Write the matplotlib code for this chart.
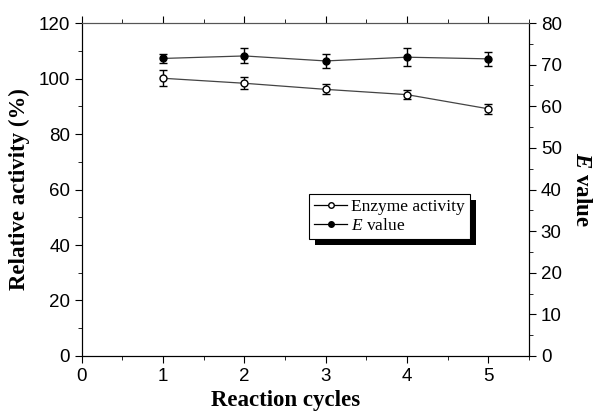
import matplotlib.pyplot as plt
from matplotlib.ticker import MultipleLocator
from matplotlib.lines import Line2D
from matplotlib.patches import Rectangle
from matplotlib.transforms import IdentityTransform

plt.rcParams['mathtext.fontset'] = 'custom'
plt.rcParams['mathtext.it'] = 'Liberation Serif:italic'
plt.rcParams['mathtext.bf'] = 'Liberation Serif:italic:bold'
plt.rcParams['mathtext.rm'] = 'Liberation Serif'

cycles = [1, 2, 3, 4, 5]
enzyme_activity = [100.1, 98.3, 96.1, 94.2, 89.1]
enzyme_err = [2.9, 2.2, 1.8, 1.7, 1.7]
e_value = [71.5, 72.1, 70.9, 71.8, 71.4]
e_err = [1.0, 1.8, 1.6, 2.1, 1.6]

fig = plt.figure(figsize=(5.93, 4.12), dpi=100)
ax = fig.add_axes([0.138, 0.136, 0.754, 0.808])
ax2 = ax.twinx()

line_c = '#444444'
ax.errorbar(cycles, enzyme_activity, yerr=enzyme_err, fmt='-o', color=line_c,
            mfc='white', mec='black', ms=5, mew=1, lw=0.9, elinewidth=1,
            capsize=3, capthick=1, ecolor='black')
ax2.errorbar(cycles, e_value, yerr=e_err, fmt='-o', color=line_c,
             mfc='black', mec='black', ms=5, lw=0.9, elinewidth=1,
             capsize=3, capthick=1, ecolor='black')

ax.set_xlim(0, 5.5)
ax.set_ylim(0, 120)
ax2.set_ylim(0, 80)
ax.xaxis.set_major_locator(MultipleLocator(1))
ax.xaxis.set_minor_locator(MultipleLocator(0.5))
ax.yaxis.set_major_locator(MultipleLocator(20))
ax.yaxis.set_minor_locator(MultipleLocator(10))
ax2.yaxis.set_major_locator(MultipleLocator(10))
ax2.yaxis.set_minor_locator(MultipleLocator(5))

for a in (ax, ax2):
    a.spines['top'].set_color('#555555')
    a.spines['top'].set_linewidth(0.8)
    a.tick_params(which='both', direction='out', labelsize=13.5)
    a.tick_params(which='major', length=5)
    a.tick_params(which='minor', length=3)
    for lab in a.get_xticklabels() + a.get_yticklabels():
        lab.set_family('Liberation Sans')
# tiny ticks along the top line, normal ticks at the bottom
ax.tick_params(axis='x', which='both', top=True, labeltop=False, length=1.5,
               color='#555555', bottom=False)
ax.tick_params(axis='x', which='major', bottom=True, length=5, color='black')
ax.tick_params(axis='x', which='minor', bottom=True, length=3, color='black')

serif = 'Liberation Serif'
ax.set_xlabel('Reaction cycles', fontsize=16.5, fontweight='bold', family=serif)
ax.xaxis.set_label_coords(2.5 / 5.5, -0.103)
ax.set_ylabel('Relative activity (%)', fontsize=16.5, fontweight='bold', family=serif,
              labelpad=6)
ax2.set_ylabel(r'$\mathbf{E}$ value', fontsize=16.5, fontweight='bold', family=serif,
               rotation=270, labelpad=22)

handles = [
    Line2D([], [], color='black', lw=0.9, marker='o', ms=4, mfc='white', mec='black'),
    Line2D([], [], color='black', lw=0.9, marker='o', ms=4, mfc='black', mec='black'),
]
labels = ['Enzyme activity', r'$E$ value']
leg = ax2.legend(handles, labels, loc='upper left', bbox_to_anchor=(309 / 593, 1 - 194 / 412),
                 bbox_transform=fig.transFigure, borderaxespad=0,
                 prop={'family': serif, 'size': 12.5}, fancybox=False,
                 edgecolor='black', framealpha=1, handlelength=1.9, handletextpad=0.2,
                 borderpad=0.3, labelspacing=0.15)
leg.get_frame().set_linewidth(0.8)

fig.canvas.draw()
bb = leg.get_window_extent()
shadow = Rectangle((bb.x0 + 6, bb.y0 - 6), bb.width, bb.height, transform=IdentityTransform(),
                   facecolor='black', edgecolor='none', zorder=4.9, clip_on=False)
ax2.add_artist(shadow)

fig.savefig('out.png', dpi=100)
